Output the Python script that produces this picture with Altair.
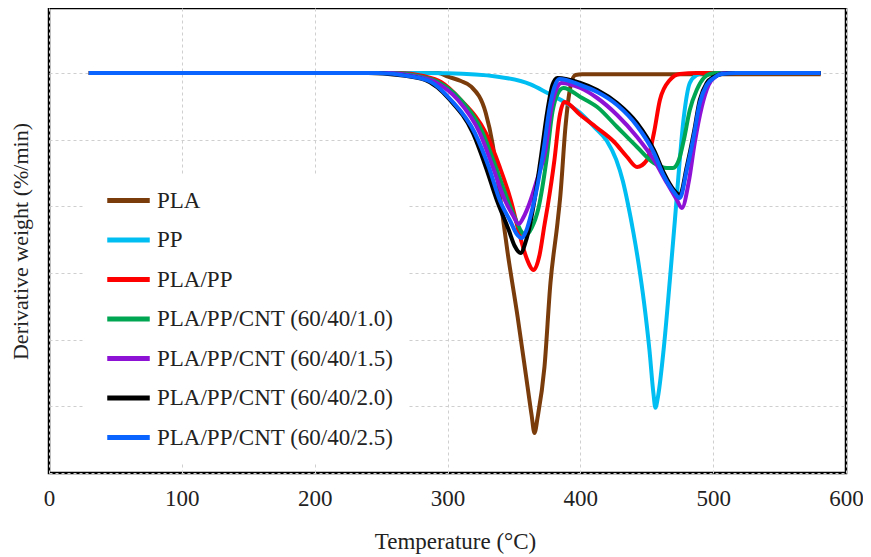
import altair as alt
import pandas as pd

SERIES = ["PLA", "PP", "PLA/PP", "PLA/PP/CNT (60/40/1.0)", "PLA/PP/CNT (60/40/1.5)",
          "PLA/PP/CNT (60/40/2.0)", "PLA/PP/CNT (60/40/2.5)"]
COLORS = ["#7B3C0C", "#00BEF2", "#FF0000", "#00A651", "#8E11D6", "#000000", "#0A64FF"]

T_PLA = [30, 240, 293, 300.4, 310.1, 317.6, 328.8, 334.1, 337.8, 345.3, 352.8, 360.3, 363.3, 365.5,
         367.8, 373.0, 377.5, 382.8, 385.0, 388.8, 392.5, 396.3, 401.5, 581]
Y_PLA = [0, 0, 0, -0.055, -0.12, -0.20, -0.60, -1.08, -1.60, -2.70, -3.66, -4.71, -5.13, -5.40,
         -5.17, -4.41, -3.15, -2.25, -1.83, -0.81, -0.21, -0.03, -0.02, -0.02]

T_PP = [30, 277.9, 300.4, 337.8, 362.5, 375.3, 388.0, 400.0, 410.0, 420.0, 427.0, 432.0, 436.0,
        440.0, 444.0, 448.0, 452.0, 455.0, 456.5, 458.5, 462.9, 467.4, 471.2, 472.7, 477.9, 482.4,
        487.6, 492.9, 581]
Y_PP = [0, 0, -0.005, -0.055, -0.17, -0.30, -0.435, -0.60, -0.80, -1.02, -1.30, -1.62, -1.98,
        -2.40, -2.88, -3.45, -4.15, -4.80, -5.02, -4.85, -4.11, -3.105, -2.205, -1.83, -0.66, -0.15,
        -0.03, 0, 0]

T_BLEND = [30, 262.9, 281.6, 295.1, 310.1, 328.8, 339.3, 347.6, 354.3, 359.5, 364.8, 369.3, 373.0,
           375.3, 380.5, 384.3, 388.0, 400.0, 412.7, 425.5, 435.2, 442.7, 450.2, 455.4, 459.9, 467.4,
           474.9, 487.6, 581]
Y_BLEND = [0, 0, -0.045, -0.135, -0.405, -0.90, -1.41, -1.905, -2.43, -2.775, -2.955, -2.73, -2.28,
           -2.01, -1.305, -0.66, -0.435, -0.63, -0.825, -1.035, -1.26, -1.41, -1.305, -0.90, -0.405,
           -0.105, -0.015, 0, 0]

T_C10 = [30, 259.2, 277.9, 292.9, 310.1, 326.6, 336.3, 345.3, 352.1, 355.8, 358.8, 363.3, 368.5,
         374.5, 379.0, 382.8, 387.3, 400.0, 412.7, 427.7, 442.7, 455.4, 465.2, 469.7, 474.2, 477.9,
         482.4, 487.6, 492.9, 497.4, 502.6, 581]
Y_C10 = [0, 0, -0.045, -0.135, -0.405, -0.90, -1.41, -1.905, -2.235, -2.385, -2.43, -2.325, -2.025,
         -1.305, -0.585, -0.315, -0.225, -0.36, -0.51, -0.81, -1.11, -1.35, -1.425, -1.425, -1.305,
         -1.005, -0.555, -0.255, -0.075, -0.015, 0, 0]

T_C15 = [30, 255.4, 274.2, 290.6, 307.9, 324.3, 334.1, 343.1, 349.1, 353.6, 357.3, 361.8, 367.8,
         373.8, 378.3, 382.0, 385.8, 400.0, 412.7, 427.7, 442.7, 455.4, 465.2, 472.7, 476.4, 481.6,
         486.1, 491.4, 496.6, 502.6, 508.6, 581]
Y_C15 = [0, 0, -0.045, -0.135, -0.405, -0.90, -1.41, -1.905, -2.13, -2.265, -2.16, -1.95, -1.575,
         -1.155, -0.51, -0.24, -0.15, -0.225, -0.375, -0.63, -0.96, -1.305, -1.65, -1.905, -2.025,
         -1.635, -1.05, -0.51, -0.18, -0.045, 0, 0]

T_C20 = [30, 240.4, 262.9, 283.1, 301.9, 319.1, 328.8, 337.1, 346.1, 350.6, 355.1, 358.8, 362.5,
         365.5, 370.0, 375.3, 379.0, 382.8, 400.0, 412.7, 427.7, 442.7, 455.4, 462.9, 470.4, 474.9,
         480.1, 485.4, 489.9, 495.1, 500.4, 506.4, 517.6, 581]
Y_C20 = [0, 0, -0.03, -0.105, -0.405, -0.90, -1.41, -1.905, -2.355, -2.595, -2.70, -2.535, -2.235,
         -1.905, -1.305, -0.555, -0.18, -0.075, -0.15, -0.255, -0.45, -0.75, -1.155, -1.50, -1.755,
         -1.83, -1.41, -0.90, -0.405, -0.15, -0.06, -0.015, 0, 0]

T_C25 = [30, 247.9, 270.4, 287.6, 302.6, 320.6, 331.1, 339.3, 347.6, 352.1, 355.8, 359.5, 363.3,
         367.8, 372.3, 376.8, 380.5, 384.3, 400.0, 412.7, 427.7, 442.7, 455.4, 462.9, 470.4, 474.9,
         480.1, 485.4, 489.9, 495.1, 500.4, 506.4, 517.6, 581]
Y_C25 = [0, 0, -0.045, -0.135, -0.405, -0.90, -1.41, -1.905, -2.235, -2.415, -2.475, -2.355, -2.085,
         -1.68, -1.155, -0.525, -0.21, -0.09, -0.18, -0.285, -0.48, -0.795, -1.20, -1.545, -1.785,
         -1.875, -1.455, -0.945, -0.45, -0.18, -0.075, -0.015, 0, 0]

X_TICKS = [0, 100, 200, 300, 400, 500, 600]
Y_GRID = [-6, -5, -4, -3, -2, -1, 0]

pairs = [(T_PLA, Y_PLA), (T_PP, Y_PP), (T_BLEND, Y_BLEND), (T_C10, Y_C10),
         (T_C15, Y_C15), (T_C20, Y_C20), (T_C25, Y_C25)]
rows = []
for idx, (name, (ts, ys)) in enumerate(zip(SERIES, pairs)):
    for t, y in zip(ts, ys):
        rows.append({"series": name, "T": t, "DW": y, "k": idx})
df = pd.DataFrame(rows)

FONT = "Liberation Serif"

chart = alt.Chart(df).mark_line(strokeWidth=4, interpolate="monotone").encode(
    x=alt.X("T:Q", scale=alt.Scale(domain=[0, 600], nice=False),
            axis=alt.Axis(values=X_TICKS, title="Temperature (°C)", ticks=False, tickSize=0,
                          domain=False, grid=True, gridDash=[3, 3], gridColor="#cfcfcf",
                          labelFont=FONT, labelFontSize=23, labelColor="#222222",
                          labelBaseline="middle", labelPadding=25, labelFlush=False,
                          titleFont=FONT, titleFontSize=23, titleFontWeight="normal",
                          titleColor="#222222", titleX=406, titleY=68,
                          titleBaseline="middle", titleAlign="center")),
    y=alt.Y("DW:Q", scale=alt.Scale(domain=[-6, 0.975], nice=False, zero=False),
            axis=alt.Axis(values=Y_GRID, labels=False, ticks=False, domain=False, grid=True,
                          gridDash=[3, 3], gridColor="#cfcfcf",
                          title="Derivative weight (%/min)", titleFont=FONT, titleFontSize=22,
                          titleFontWeight="normal", titleColor="#222222", titleAngle=270,
                          titleX=-29, titleY=233, titleBaseline="middle", titleAlign="center")),
    color=alt.Color("series:N", scale=alt.Scale(domain=SERIES, range=COLORS),
                    legend=alt.Legend(title=None, orient="none", legendX=34, legendY=167,
                                      fillColor="white", padding=14,
                                      symbolType="M-2.5,0H2.5", symbolSize=289,
                                      symbolStrokeWidth=5, symbolOffset=20,
                                      labelOffset=17, labelFont=FONT, labelFontSize=23,
                                      labelColor="#222222", labelLimit=400, rowPadding=15.5)),
    order=alt.Order("T:Q"),
    detail="k:N",
).properties(
    width=797, height=465,
    autosize=alt.AutoSizeParams(type="none"),
    padding={"left": 41, "top": 0, "right": 17, "bottom": 84},
).configure_view(stroke="black", strokeWidth=2.5)

chart.save("out.html", embed_options={"renderer": "svg", "actions": False})
